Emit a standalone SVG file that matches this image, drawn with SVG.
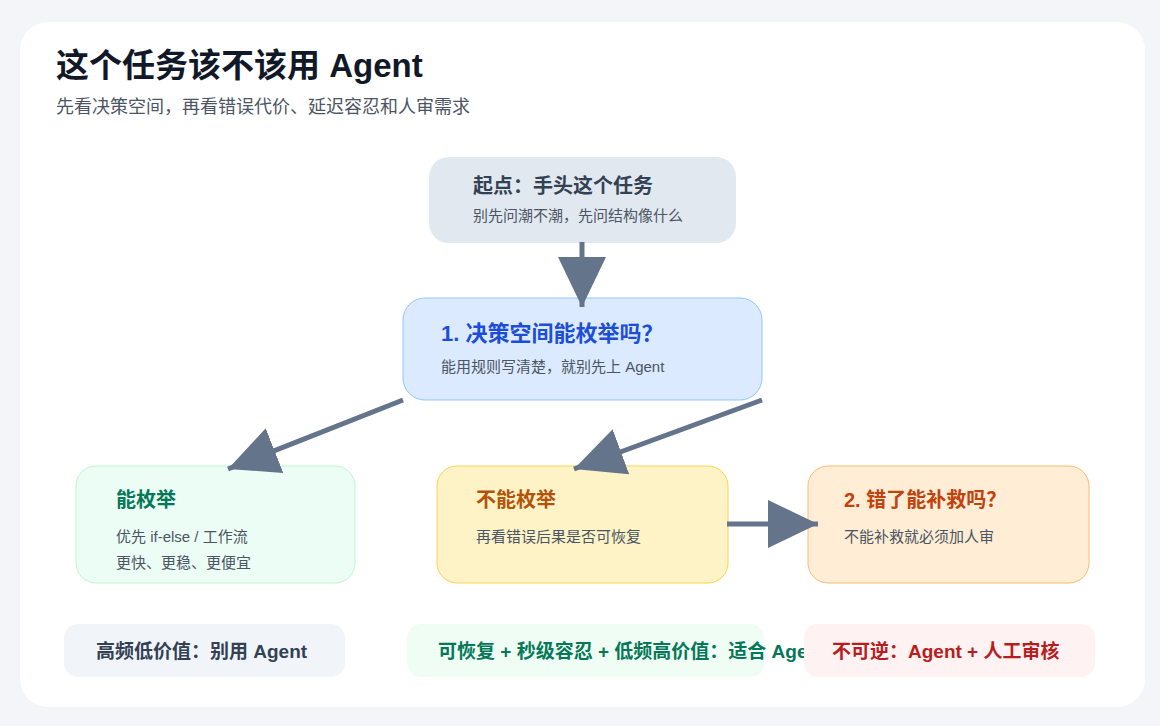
<svg xmlns="http://www.w3.org/2000/svg" width="1160" height="726" viewBox="0 0 1160 726">
<defs>
<marker id="ah" markerUnits="userSpaceOnUse" markerWidth="52" markerHeight="48" refX="50" refY="24" orient="auto">
<path d="M0,0 L50,24 L0,48 Z" fill="#64748b"/>
</marker>
<style>
text{font-family:"Liberation Sans","Noto Sans CJK SC",sans-serif}
.t{font-size:20px;font-weight:bold}
.s{font-size:15px;fill:#4b5563}
.p{font-size:19px;font-weight:bold}
.c{stroke:#64748b;stroke-width:5;fill:none;marker-end:url(#ah)}
</style>
</defs>
<rect width="1160" height="726" fill="#f3f5f9"/>
<rect x="20" y="22" width="1125" height="685" rx="28" fill="#fff"/>
<text x="56" y="77" font-size="33" font-weight="bold" fill="#111827">这个任务该不该用 Agent</text>
<text x="56" y="113" font-size="18" fill="#4b5563">先看决策空间，再看错误代价、延迟容忍和人审需求</text>
<g id="start"><rect x="429" y="157" width="307" height="86" rx="20" fill="#e2e8f0"/>
<text x="473" y="193" class="t" fill="#334155">起点：手头这个任务</text>
<text x="473" y="221" class="s" fill="#64748b">别先问潮不潮，先问结构像什么</text></g>
<g id="q1"><rect x="403" y="298" width="359" height="102" rx="22" fill="#dbeafe" stroke="#93c5fd"/>
<text x="441" y="341" font-size="22" font-weight="bold" fill="#1d4ed8">1. 决策空间能枚举吗？</text>
<text x="441" y="372" class="s">能用规则写清楚，就别先上 Agent</text></g>
<g id="enum"><rect x="76" y="466" width="279" height="117" rx="20" fill="#ecfdf5" stroke="#bbf7d0"/>
<text x="116" y="507" class="t" fill="#047857">能枚举</text>
<text x="116" y="542" class="s">优先 if-else / 工作流</text>
<text x="116" y="568" class="s">更快、更稳、更便宜</text></g>
<g id="nonenum"><rect x="437" y="466" width="291" height="117" rx="20" fill="#fef3c7" stroke="#fcd34d"/>
<text x="476" y="507" class="t" fill="#b45309">不能枚举</text>
<text x="476" y="542" class="s">再看错误后果是否可恢复</text></g>
<g id="q2"><rect x="808" y="466" width="281" height="117" rx="20" fill="#ffedd5" stroke="#fdba74"/>
<text x="844" y="507" class="t" fill="#c2410c">2. 错了能补救吗？</text>
<text x="844" y="542" class="s">不能补救就必须加人审</text></g>
<g id="connectors">
<line x1="582" y1="242" x2="582" y2="307" class="c"/>
<line x1="403" y1="400" x2="228" y2="469" class="c"/>
<line x1="762" y1="400" x2="574" y2="469" class="c"/>
<line x1="727" y1="524" x2="818" y2="524" class="c"/>
</g>
<g id="p1"><rect x="64" y="624" width="281" height="53" rx="14" fill="#f1f5f9"/>
<text x="96" y="658" class="p" fill="#334155">高频低价值：别用 Agent</text></g>
<g id="p2"><rect x="407" y="624" width="357" height="53" rx="14" fill="#effdf5"/>
<text x="438" y="658" class="p" fill="#047857">可恢复 + 秒级容忍 + 低频高价值：适合 Agent</text></g>
<g id="p3"><rect x="804" y="624" width="291" height="53" rx="14" fill="#fef2f2"/>
<text x="832" y="658" class="p" fill="#b91c1c">不可逆：Agent + 人工审核</text></g>
</svg>
